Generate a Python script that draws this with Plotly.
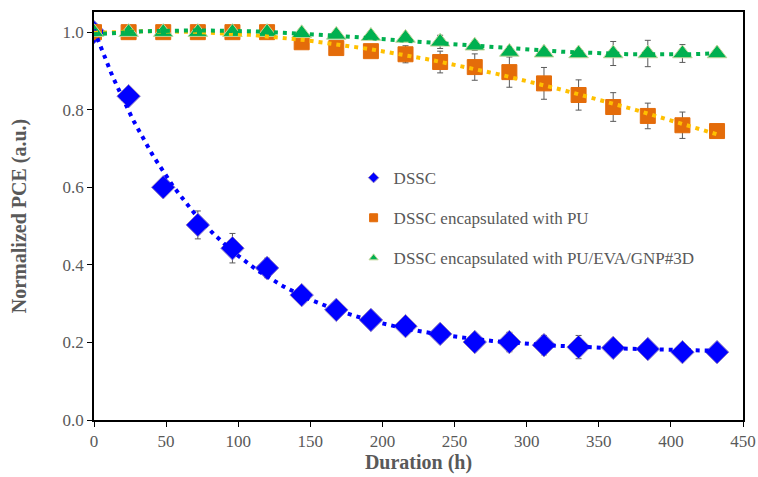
import numpy as np
import plotly.graph_objects as go

hours = [0, 24, 48, 72, 96, 120, 144, 168, 192, 216, 240, 264, 288, 312, 336, 360, 384, 408, 432]

dssc = [1.0, 0.835, 0.600, 0.503, 0.443, 0.392, 0.322, 0.284, 0.258, 0.242, 0.222, 0.201, 0.201, 0.193, 0.188, 0.186, 0.183, 0.175, 0.175]
dssc_err = [0.0, 0.008, 0.008, 0.036, 0.038, 0.025, 0.008, 0.010, 0.010, 0.008, 0.010, 0.012, 0.025, 0.025, 0.030, 0.010, 0.008, 0.008, 0.006]

pu = [1.0, 1.0, 1.0, 1.0, 1.0, 1.0, 0.974, 0.959, 0.951, 0.943, 0.923, 0.910, 0.897, 0.868, 0.838, 0.807, 0.784, 0.760, 0.745]
pu_err = [0.0, 0.0, 0.0, 0.0, 0.0, 0.0, 0.010, 0.015, 0.015, 0.022, 0.028, 0.034, 0.039, 0.041, 0.039, 0.037, 0.033, 0.034, 0.0]

gnp = [1.0, 1.0, 1.0, 1.0, 1.0, 1.0, 0.997, 0.993, 0.990, 0.985, 0.975, 0.965, 0.949, 0.947, 0.945, 0.945, 0.945, 0.945, 0.945]
gnp_err = [0.0, 0.0, 0.0, 0.0, 0.0, 0.0, 0.010, 0.006, 0.006, 0.006, 0.017, 0.012, 0.0, 0.0, 0.008, 0.031, 0.034, 0.023, 0.0]

names = ["DSSC", "DSSC encapsulated with PU", "DSSC encapsulated with PU/EVA/GNP#3D"]

FONT = "Liberation Serif"
GRAY = "#595959"

xh = np.array(hours, dtype=float)
xs = np.linspace(0, 432, 217)


def exp_trend(y):
    y = np.array(y)
    best = None
    for b in np.linspace(0.002, 0.06, 600):
        A = np.vstack([np.exp(-b * xh), np.ones_like(xh)]).T
        coef, res, *_ = np.linalg.lstsq(A, y, rcond=None)
        err = np.sum((A @ coef - y) ** 2)
        if best is None or err < best[0]:
            best = (err, b, coef)
    _, b, (a, c) = best
    return a * np.exp(-b * xs) + c


def poly_trend(y, deg=3):
    p = np.polyfit(xh, np.array(y), deg)
    return np.polyval(p, xs)


series = [
    (dssc, dssc_err, names[0], "diamond", "#0000FF", "#8E7CC3", "#0000FF", 18, exp_trend(dssc)),
    (pu, pu_err, names[1], "square", "#E46C0A", "#E46C0A", "#FFC000", 15, poly_trend(pu)),
    (gnp, gnp_err, names[2], "triangle-up", "#00B050", "#C3D69B", "#00B050", 17, poly_trend(gnp)),
]

fig = go.Figure()

# markers with error bars
for y, err, name, sym, col, lcol, tcol, sz, tr in series:
    fig.add_trace(go.Scatter(
        x=hours, y=y, mode="markers", name=name, showlegend=False,
        marker=dict(symbol=sym, size=sz, color=col, line=dict(color=lcol, width=1)),
        error_y=dict(type="data", array=err, visible=True, color=GRAY, thickness=1, width=3)))

# dotted trend lines on top
for y, err, name, sym, col, lcol, tcol, sz, tr in series:
    fig.add_trace(go.Scatter(
        x=xs, y=tr, mode="lines", line=dict(color=tcol, width=4, dash="4px,5px"),
        showlegend=False, hoverinfo="skip"))

# legend entries
for i, (y, err, name, sym, col, lcol, tcol, sz, tr) in enumerate(series):
    fig.add_trace(go.Scatter(
        x=[None], y=[None], mode="markers", name=name, legendgroup=str(i),
        marker=dict(symbol=sym, size=8, color=col, line=dict(color=lcol, width=1))))

fig.update_layout(
    width=758, height=477,
    margin=dict(l=94, r=15, t=12, b=57),
    paper_bgcolor="white", plot_bgcolor="white",
    font=dict(family=FONT, size=17, color=GRAY),
    legend=dict(x=0.40, y=0.637, xanchor="left", yanchor="top",
                bgcolor="rgba(0,0,0,0)", font=dict(family=FONT, size=17, color=GRAY),
                tracegroupgap=15, itemsizing="trace"),
    xaxis=dict(range=[0, 450], tickvals=[0, 50, 100, 150, 200, 250, 300, 350, 400, 450],
               showgrid=False, zeroline=False, showline=True, linecolor="black", linewidth=1.5,
               mirror=True, ticks="outside", ticklen=5, tickcolor="black", automargin=False,
               tickfont=dict(family=FONT, size=17, color=GRAY),
               title=dict(text="<b>Duration (h)</b>", font=dict(family=FONT, size=20, color=GRAY), standoff=4)),
    yaxis=dict(range=[0, 1.052], tickvals=[0, 0.2, 0.4, 0.6, 0.8, 1.0], tickformat=".1f",
               showgrid=False, zeroline=False, showline=True, linecolor="black", linewidth=1.5,
               mirror=True, ticks="outside", ticklen=5, tickcolor="black", automargin=False,
               tickfont=dict(family=FONT, size=17, color=GRAY),
               title=dict(text="<b>Normalized PCE (a.u.)</b>", font=dict(family=FONT, size=20, color=GRAY), standoff=31)),
)

fig.write_html("out.html")
